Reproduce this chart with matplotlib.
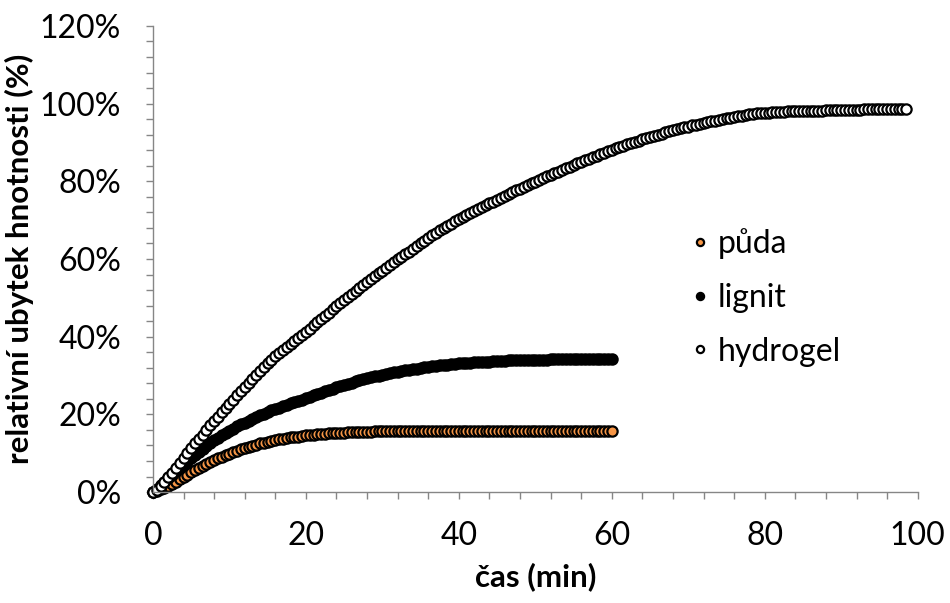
import numpy as np
import matplotlib
matplotlib.use("Agg")
import matplotlib.pyplot as plt
from matplotlib.ticker import MultipleLocator, PercentFormatter

# interval between measurements (min)
krok = 0.5

# relative mass loss (%), one value every 0.5 min
puda = [
    0.0, 0.3, 0.7, 1.1, 1.6, 2.1, 2.7, 3.3, 3.9, 4.5,
    5.1, 5.7, 6.2, 6.8, 7.3, 7.8, 8.3, 8.7, 9.1, 9.5,
    9.9, 10.3, 10.6, 11.0, 11.3, 11.6, 11.9, 12.2, 12.5, 12.7,
    12.9, 13.2, 13.4, 13.6, 13.7, 13.9, 14.1, 14.2, 14.3, 14.5,
    14.6, 14.7, 14.8, 14.9, 15.0, 15.0, 15.1, 15.2, 15.2, 15.3,
    15.3, 15.4, 15.4, 15.4, 15.5, 15.5, 15.5, 15.5, 15.6, 15.6,
    15.6, 15.6, 15.6, 15.6, 15.6, 15.6, 15.6, 15.6, 15.6, 15.6,
    15.6, 15.6, 15.6, 15.6, 15.6, 15.6, 15.6, 15.6, 15.6, 15.6,
    15.6, 15.6, 15.6, 15.6, 15.6, 15.6, 15.6, 15.6, 15.6, 15.6,
    15.6, 15.6, 15.6, 15.6, 15.6, 15.6, 15.6, 15.6, 15.6, 15.6,
    15.6, 15.6, 15.6, 15.6, 15.6, 15.6, 15.6, 15.6, 15.6, 15.6,
    15.6, 15.6, 15.6, 15.6, 15.6, 15.6, 15.6, 15.6, 15.6, 15.6,
    15.6,
]

lignit = [
    0.0, 0.8, 1.7, 2.6, 3.5, 4.4, 5.3, 6.2, 7.0, 7.9,
    8.7, 9.5, 10.3, 11.1, 11.9, 12.6, 13.3, 14.0, 14.6, 15.2,
    15.8, 16.3, 16.9, 17.4, 17.9, 18.4, 18.9, 19.3, 19.8, 20.2,
    20.6, 21.0, 21.4, 21.7, 22.1, 22.4, 22.8, 23.1, 23.5, 23.8,
    24.2, 24.5, 24.9, 25.2, 25.6, 25.9, 26.3, 26.6, 27.0, 27.3,
    27.6, 27.9, 28.2, 28.5, 28.8, 29.0, 29.3, 29.5, 29.8, 30.0,
    30.2, 30.4, 30.6, 30.8, 31.0, 31.2, 31.4, 31.5, 31.7, 31.8,
    32.0, 32.1, 32.3, 32.4, 32.5, 32.6, 32.7, 32.8, 32.9, 33.0,
    33.1, 33.2, 33.3, 33.3, 33.4, 33.5, 33.5, 33.6, 33.6, 33.7,
    33.7, 33.8, 33.8, 33.9, 33.9, 33.9, 34.0, 34.0, 34.0, 34.1,
    34.1, 34.1, 34.1, 34.1, 34.2, 34.2, 34.2, 34.2, 34.2, 34.2,
    34.2, 34.3, 34.3, 34.3, 34.3, 34.3, 34.3, 34.3, 34.3, 34.3,
    34.3,
]

hydrogel = [
    0.0, 0.6, 1.5, 2.6, 3.8, 5.0, 6.2, 7.5, 8.8, 10.1,
    11.3, 12.5, 13.7, 14.8, 16.0, 17.2, 18.3, 19.4, 20.5, 21.6,
    22.7, 23.8, 24.9, 26.0, 27.1, 28.2, 29.2, 30.2, 31.2, 32.2,
    33.1, 34.0, 34.9, 35.7, 36.5, 37.3, 38.1, 38.9, 39.7, 40.5,
    41.3, 42.1, 42.9, 43.7, 44.5, 45.3, 46.2, 47.0, 47.8, 48.6,
    49.4, 50.2, 51.0, 51.8, 52.5, 53.3, 54.0, 54.8, 55.5, 56.3,
    57.0, 57.8, 58.5, 59.2, 59.9, 60.6, 61.2, 61.9, 62.6, 63.3,
    64.0, 64.7, 65.4, 66.1, 66.7, 67.4, 68.0, 68.6, 69.1, 69.7,
    70.2, 70.8, 71.3, 71.8, 72.3, 72.8, 73.3, 73.8, 74.3, 74.8,
    75.3, 75.8, 76.3, 76.8, 77.2, 77.7, 78.1, 78.6, 79.0, 79.5,
    79.9, 80.4, 80.8, 81.3, 81.7, 82.1, 82.5, 83.0, 83.4, 83.8,
    84.2, 84.6, 85.0, 85.4, 85.8, 86.2, 86.6, 87.0, 87.4, 87.8,
    88.1, 88.5, 88.8, 89.2, 89.5, 89.8, 90.1, 90.5, 90.8, 91.1,
    91.4, 91.7, 92.0, 92.3, 92.6, 92.9, 93.1, 93.4, 93.6, 93.9,
    94.1, 94.4, 94.6, 94.8, 95.0, 95.2, 95.4, 95.6, 95.8, 96.0,
    96.2, 96.4, 96.6, 96.8, 96.9, 97.1, 97.2, 97.4, 97.5, 97.6,
    97.7, 97.7, 97.8, 97.8, 97.9, 97.9, 98.0, 98.0, 98.1, 98.1,
    98.1, 98.1, 98.2, 98.2, 98.2, 98.2, 98.3, 98.3, 98.3, 98.3,
    98.4, 98.4, 98.4, 98.4, 98.4, 98.4, 98.5, 98.5, 98.5, 98.5,
    98.5, 98.5, 98.5, 98.6, 98.6, 98.6, 98.6, 98.6,
]

nazvy = ["půda", "lignit", "hydrogel"]
barvy = ["#F79646", "#000000", "#FFFFFF"]

plt.rcParams["font.family"] = ["Lato", "DejaVu Sans"]

fig = plt.figure(figsize=(9.5, 6.03), dpi=100)
ax = fig.add_axes([0.161, 0.184, 0.805, 0.773])

for data, nazev, barva in zip([puda, lignit, hydrogel], nazvy, barvy):
    cas = np.arange(len(data)) * krok
    ax.plot(cas, data, linestyle="none", marker="o", markersize=7.4,
            markerfacecolor=barva, markeredgecolor="black",
            markeredgewidth=1.6, label=nazev, clip_on=False)

ax.set_xlim(0, 100)
ax.set_ylim(0, 120)
ax.xaxis.set_major_locator(MultipleLocator(20))
ax.xaxis.set_minor_locator(MultipleLocator(4))
ax.yaxis.set_major_locator(MultipleLocator(20))
ax.yaxis.set_minor_locator(MultipleLocator(4))
ax.yaxis.set_major_formatter(PercentFormatter(decimals=0))

for s in ["top", "right"]:
    ax.spines[s].set_visible(False)
for s in ["left", "bottom"]:
    ax.spines[s].set_color("#868686")
    ax.spines[s].set_linewidth(1.0)

ax.tick_params(which="both", direction="out", length=5, width=1,
               color="#868686", labelsize=23, labelcolor="black")
ax.tick_params(axis="y", which="major", pad=18)
ax.tick_params(axis="x", which="major", pad=16)

ax.set_xlabel("čas (min)", fontsize=22.5, fontweight="bold", labelpad=8)
ax.set_ylabel("relativní ubytek hnotnosti (%)", fontsize=22.5,
              fontweight="bold", labelpad=4)

leg = ax.legend(loc="center left", bbox_to_anchor=(0.665, 0.418),
                frameon=False, fontsize=23, markerscale=0.7,
                handlelength=0.6, handletextpad=0.25, labelspacing=0.75)

plt.savefig("out.png", dpi=100)
